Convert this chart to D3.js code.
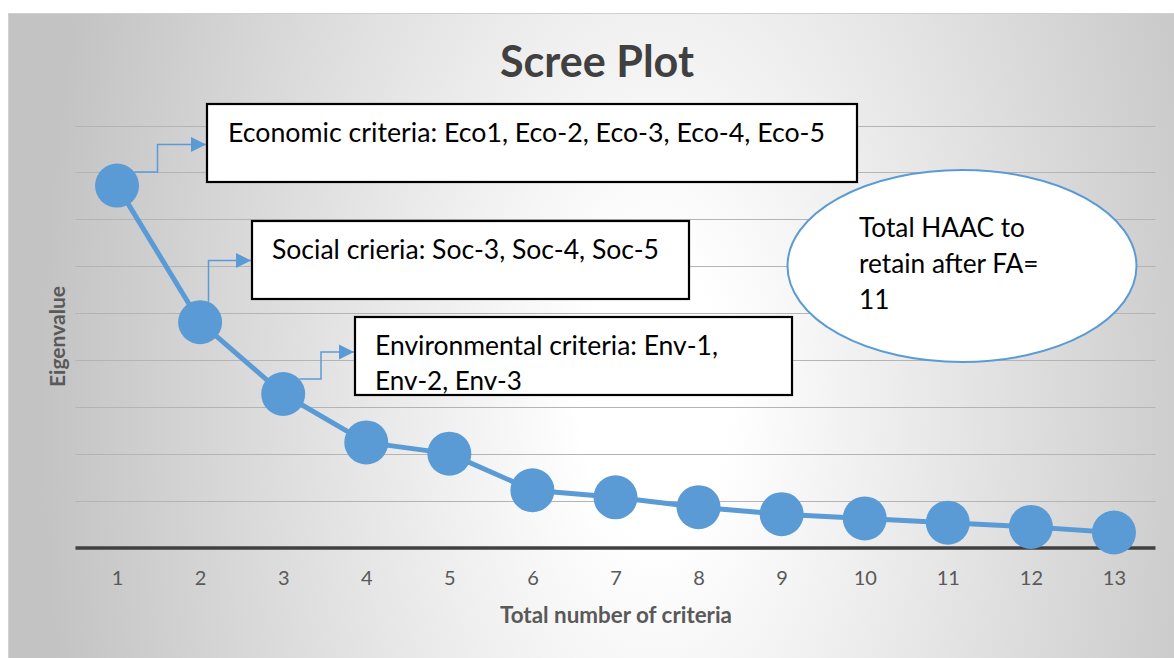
<!DOCTYPE html>
<html>
<head>
<meta charset="utf-8">
<script src="https://cdn.jsdelivr.net/npm/d3@7"></script>
<style>
  html, body { margin: 0; padding: 0; background: #ffffff; }
  svg { display: block; font-family: Lato, "Open Sans", "Liberation Sans", sans-serif; }
</style>
</head>
<body>
<svg id="chart" width="1174" height="658"></svg>
<script>
// Scree plot data: eigenvalue for each extracted criterion
const criteria = [1, 2, 3, 4, 5, 6, 7, 8, 9, 10, 11, 12, 13];
const eigenvalues = [7.72, 4.81, 3.28, 2.25, 2.01, 1.23, 1.08, 0.87, 0.72, 0.63, 0.54, 0.45, 0.33];
const gridValues = [0, 1, 2, 3, 4, 5, 6, 7, 8, 9];

const chartTitle = "Scree Plot";
const xTitle = "Total number of criteria";
const yTitle = "Eigenvalue";

// Annotation callouts
const groupLabels = [
  ["Economic criteria: Eco1, Eco-2, Eco-3, Eco-4, Eco-5"],
  ["Social crieria: Soc-3, Soc-4, Soc-5"],
  ["Environmental criteria: Env-1,", "Env-2, Env-3"]
];
const noteLines = ["Total HAAC to", "retain after FA=", "11"];

const W = 1174, H = 658;
const svg = d3.select("#chart");
const blue = "#5b9bd5";

// Background panel with radial shading
const defs = svg.append("defs");
const grad = defs.append("radialGradient")
  .attr("id", "panelShade")
  .attr("gradientUnits", "userSpaceOnUse")
  .attr("cx", 0).attr("cy", 0).attr("r", 1)
  .attr("gradientTransform", "translate(655,400) scale(615,1150)");
grad.append("stop").attr("offset", 0).attr("stop-color", "#ffffff");
grad.append("stop").attr("offset", 0.12).attr("stop-color", "#ffffff");
grad.append("stop").attr("offset", 1).attr("stop-color", "#c3c3c3");

const arrowHead = defs.append("marker")
  .attr("id", "arrowHead")
  .attr("viewBox", "0 0 10 10")
  .attr("refX", 10).attr("refY", 5)
  .attr("markerUnits", "userSpaceOnUse")
  .attr("markerWidth", 15).attr("markerHeight", 16)
  .attr("orient", "auto");
arrowHead.append("path").attr("d", "M0,0 L10,5 L0,10 Z").attr("fill", blue);

svg.append("rect")
  .attr("x", 8.5).attr("y", 13.5)
  .attr("width", W).attr("height", H)
  .attr("fill", "url(#panelShade)")
  .attr("stroke", "#d0d0d0").attr("stroke-width", 1);

// Scales
const plot = { left: 75.5, right: 1155.5, top: 125.5, bottom: 548 };
const x = d3.scalePoint().domain(criteria).range([plot.left, plot.right]).padding(0.5);
const y = d3.scaleLinear().domain([0, 9]).range([plot.bottom, plot.top]);

// Fit a text element to a target width by scaling its font size
function fitWidth(sel, target) {
  const node = sel.node();
  const base = parseFloat(sel.style("font-size"));
  const w = node.getComputedTextLength();
  sel.style("font-size", (base * target / w).toFixed(2) + "px");
}

// Horizontal gridlines
svg.append("g")
  .selectAll("line")
  .data(gridValues.filter(v => v > 0))
  .join("line")
  .attr("x1", plot.left).attr("x2", plot.right)
  .attr("y1", d => Math.round(y(d)) + 0.5).attr("y2", d => Math.round(y(d)) + 0.5)
  .attr("stroke", "#b4b4b4").attr("stroke-width", 1.2);

// Category axis
const xAxis = svg.append("g")
  .attr("transform", `translate(0,${y(0)})`)
  .call(d3.axisBottom(x).tickSize(0).tickPadding(23));
xAxis.select(".domain")
  .attr("d", `M${plot.left},0H${plot.right}`)
  .attr("stroke", "#404040").attr("stroke-width", 3.3);
xAxis.selectAll(".tick text")
  .attr("fill", "#595959")
  .style("font-size", "20px")
  .style("font-family", "Lato, 'Open Sans', sans-serif");

// Axis titles and chart title
const xt = svg.append("text")
  .attr("x", 616).attr("y", 623)
  .attr("text-anchor", "middle")
  .attr("fill", "#595959")
  .style("font-weight", "bold").style("font-size", "18px")
  .text(xTitle);
fitWidth(xt, 232);

const yt = svg.append("text")
  .attr("transform", "translate(65,336.5) rotate(-90)")
  .attr("text-anchor", "middle")
  .attr("fill", "#595959")
  .style("font-weight", "bold").style("font-size", "17.5px")
  .text(yTitle);
fitWidth(yt, 101);

const tt = svg.append("text")
  .attr("x", 597).attr("y", 77)
  .attr("text-anchor", "middle")
  .attr("fill", "#404040")
  .style("font-weight", "bold").style("font-size", "38px")
  .text(chartTitle);
fitWidth(tt, 194);

// Scree line and markers
const line = d3.line().x((d, i) => x(criteria[i])).y(d => y(d));
svg.append("path")
  .datum(eigenvalues)
  .attr("d", line)
  .attr("fill", "none")
  .attr("stroke", blue).attr("stroke-width", 5)
  .attr("stroke-linejoin", "round");

const R = 22;
svg.append("g")
  .selectAll("circle")
  .data(eigenvalues)
  .join("circle")
  .attr("cx", (d, i) => x(criteria[i]))
  .attr("cy", d => y(d))
  .attr("r", R)
  .attr("fill", blue);

// Callout boxes with elbow connectors from the first three points
const boxes = [
  { x: 207, y: 104, w: 650, h: 78, tx: 228, base: [141.5], widths: [597], point: 0, elbow: { type: "h", y: 172, bend: 157.5, to: 144.5 } },
  { x: 252, y: 221, w: 437, h: 78, tx: 272, base: [258.5], widths: [387], point: 1, elbow: { type: "v", x: 208.5, to: 260.5 } },
  { x: 355, y: 317, w: 437, h: 78, tx: 375, base: [354.5, 390], widths: [343, 147], point: 2, elbow: { type: "h", y: 379, bend: 321, to: 352 } }
];

boxes.forEach((b, k) => {
  const cx = x(criteria[b.point]);
  const cy = y(eigenvalues[b.point]);
  let d;
  if (b.elbow.type === "h") {
    const sx = cx + Math.sqrt(Math.max(0, R * R - (b.elbow.y - cy) ** 2));
    d = `M${sx},${b.elbow.y}H${b.elbow.bend}V${b.elbow.to}H${b.x - 1}`;
  } else {
    const sy = cy - Math.sqrt(Math.max(0, R * R - (b.elbow.x - cx) ** 2));
    d = `M${b.elbow.x},${sy}V${b.elbow.to}H${b.x - 1}`;
  }
  svg.append("path")
    .attr("d", d)
    .attr("fill", "none")
    .attr("stroke", blue).attr("stroke-width", 1.5)
    .attr("marker-end", "url(#arrowHead)");

  svg.append("rect")
    .attr("x", b.x).attr("y", b.y)
    .attr("width", b.w).attr("height", b.h)
    .attr("fill", "#ffffff")
    .attr("stroke", "#000000").attr("stroke-width", 2.2);

  groupLabels[k].forEach((t, j) => {
    const txt = svg.append("text")
      .attr("x", b.tx).attr("y", b.base[j])
      .attr("fill", "#000000")
      .style("font-size", "24px")
      .text(t);
    fitWidth(txt, b.widths[j]);
  });
});

// Callout ellipse with the retained total
svg.append("ellipse")
  .attr("cx", 962).attr("cy", 266)
  .attr("rx", 174.5).attr("ry", 96)
  .attr("fill", "#ffffff")
  .attr("stroke", blue).attr("stroke-width", 2);

const noteBase = [236.5, 272.5, 308.5];
noteLines.forEach((t, j) => {
  svg.append("text")
    .attr("class", "note")
    .attr("x", 859).attr("y", noteBase[j])
    .attr("fill", "#000000")
    .style("font-size", "24px")
    .text(t);
});
fitWidth(svg.select(".note"), 166);
const noteFont = svg.select(".note").style("font-size");
svg.selectAll(".note").style("font-size", noteFont);
</script>
</body>
</html>
